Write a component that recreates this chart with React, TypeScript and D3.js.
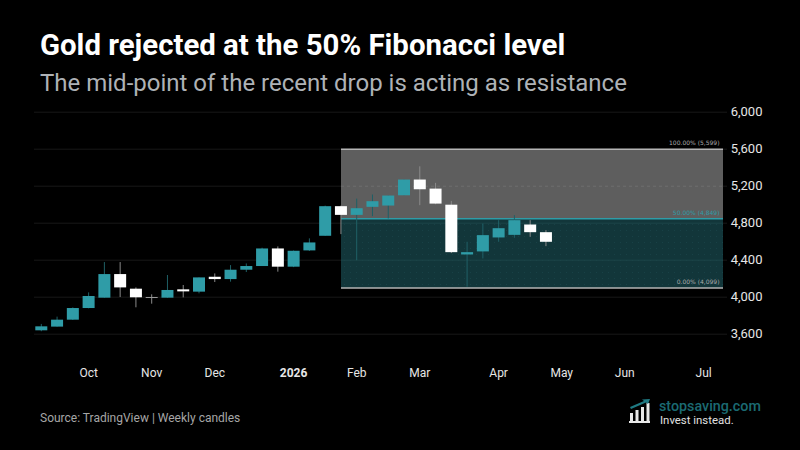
import React from "react";
import * as d3 from "d3";

const opens = [3642,3682,3757,3883,3995,4250,4092,4002,3995,4085,4060,4221,4196,4297,4337,4527,4330,4506,4664,4984,4890,4977,4991,5102,5272,5174,5000,4462,4495,4646,4674,4786,4703];
const closes = [3685,3757,3883,4013,4250,4106,3999,3998,4078,4063,4214,4196,4297,4337,4527,4330,4502,4592,4984,4890,4962,5038,5099,5272,5167,5012,4487,4487,4671,4746,4833,4703,4599];
const highs = [3711,3790,3890,4052,4380,4380,4106,4031,4240,4132,4214,4257,4347,4365,4535,4549,4505,4636,4990,4990,5066,5110,5099,5272,5415,5236,5041,4599,4797,4833,4887,4833,4725];
const lows = [3632,3682,3754,3880,3995,4002,3891,3930,3995,3998,4042,4164,4168,4272,4337,4276,4325,4500,4664,4682,4401,4876,4851,5102,4995,5005,4477,4113,4419,4599,4642,4653,4552];
const yTicks = [3600,4000,4400,4800,5200,5600,6000];
const monthLabels = ["Oct","Nov","Dec","2026","Feb","Mar","Apr","May","Jun","Jul"];
const monthIndex = [3,7,11,16,20,24,29,33,37,42];
const fibValues = [5599,4849,4099];
const fibLabels = ["100.00% (5,599)","50.00% (4,849)","0.00% (4,099)"];
const TEAL = "#2f9ca7";

const x = d3.scaleLinear().domain([0,1]).range([41.3,57.07]);
const y = d3.scaleLinear().domain([4000,4800]).range([297.2,223.2]);

export default function App() {
  const boxL = 341, boxR = 723;
  const fmt = d3.format(",");
  return (
    <svg width={800} height={450} style={{position:"fixed",left:0,top:0,background:"#000",fontFamily:"Roboto"}}>
      <defs>
        <pattern id="dots" width={6} height={6} patternUnits="userSpaceOnUse">
          <rect x={2} y={2} width={1} height={1} fill="#184146" />
        </pattern>
      </defs>
      <rect width={800} height={450} fill="#000" />
      {yTicks.map(t => (
        <line key={t} x1={34} x2={727} y1={y(t)} y2={y(t)} stroke="#181818" strokeWidth={1} />
      ))}
      <rect x={boxL} y={y(fibValues[0])} width={boxR-boxL} height={y(fibValues[1])-y(fibValues[0])} fill="#5e5e5e" />
      <rect x={boxL} y={y(fibValues[1])} width={boxR-boxL} height={y(fibValues[2])-y(fibValues[1])} fill="#12363a" />
      <rect x={boxL} y={y(fibValues[1])} width={boxR-boxL} height={y(fibValues[2])-y(fibValues[1])} fill="url(#dots)" />
      <line x1={boxL} x2={boxR} y1={y(5200)} y2={y(5200)} stroke="#6e6e6e" strokeDasharray="3 3" />
      <line x1={boxL} x2={boxR} y1={y(4800)} y2={y(4800)} stroke="#1c4448" />
      <line x1={boxL} x2={boxR} y1={y(4400)} y2={y(4400)} stroke="#1c4448" />
      <line x1={boxL} x2={boxR} y1={y(fibValues[0])} y2={y(fibValues[0])} stroke="#b5b5b5" strokeWidth={1.5} />
      <line x1={boxL} x2={boxR} y1={y(fibValues[1])} y2={y(fibValues[1])} stroke={TEAL} strokeWidth={1.5} />
      <line x1={boxL} x2={boxR} y1={y(fibValues[2])} y2={y(fibValues[2])} stroke="#b5b5b5" strokeWidth={1.5} />
      {fibLabels.map((l,i) => (
        <text key={l} x={719.5} y={y(fibValues[i])-4} textAnchor="end" fontSize={6} fontFamily="DejaVu Sans" fill={i===1?TEAL:"#aaa"}>{l}</text>
      ))}
      {opens.map((o,i) => {
        const c = closes[i], up = c>=o, col = up?TEAL:"#fff";
        const top = y(Math.max(o,c)), bot = y(Math.min(o,c));
        const wick = up ? "#1f6066" : "#8a8a8a";
        const doji = Math.abs(o-c) < 6;
        return (
          <g key={i}>
            <line x1={x(i)} x2={x(i)} y1={y(highs[i])} y2={y(lows[i])} stroke={wick} strokeWidth={1} />
            <rect x={x(i)-6} width={12} y={top} height={Math.max(bot-top,1)} fill={doji?"#9a9a9a":col} />
          </g>
        );
      })}
      {yTicks.map(t => (
        <text key={t} x={762.5} y={y(t)+3.6} textAnchor="end" fontSize={13} fill="#e6e6e6">{fmt(t)}</text>
      ))}
      {monthLabels.map((m,i) => (
        <text key={m} x={x(monthIndex[i])} y={377} textAnchor="middle" fontSize={12} fontWeight={m==="2026"?700:400} fill="#e6e6e6">{m}</text>
      ))}
      <text x={40} y={54.5} fontSize={29.4} fontWeight={700} fill="#fff">Gold rejected at the 50% Fibonacci level</text>
      <text x={40} y={90.5} fontSize={24} fill="#aeb2b6">The mid-point of the recent drop is acting as resistance</text>
      <text x={40} y={422} fontSize={12} fill="#a6a6a6">Source: TradingView | Weekly candles</text>
      <g fill="#e8e8e8">
        {[[630,8],[635.5,11],[641,14],[646.5,18]].map(([bx,h]) => (
          <rect key={bx} x={bx} y={421-h} width={3} height={h} />
        ))}
        <rect x={629} y={421} width={21} height={2} />
      </g>
      <path d="M630 407 L644 401 L642 399.5 L650 399 L648 404 L646 402.5 L631 409 Z" fill="#1f7a83" />
      <text x={659} y={411} fontSize={14.3} fontWeight={500} fill="#1b6a72">stopsaving.com</text>
      <text x={660} y={424} fontSize={11.4} fill="#e0e0e0">Invest instead.</text>
    </svg>
  );
}
